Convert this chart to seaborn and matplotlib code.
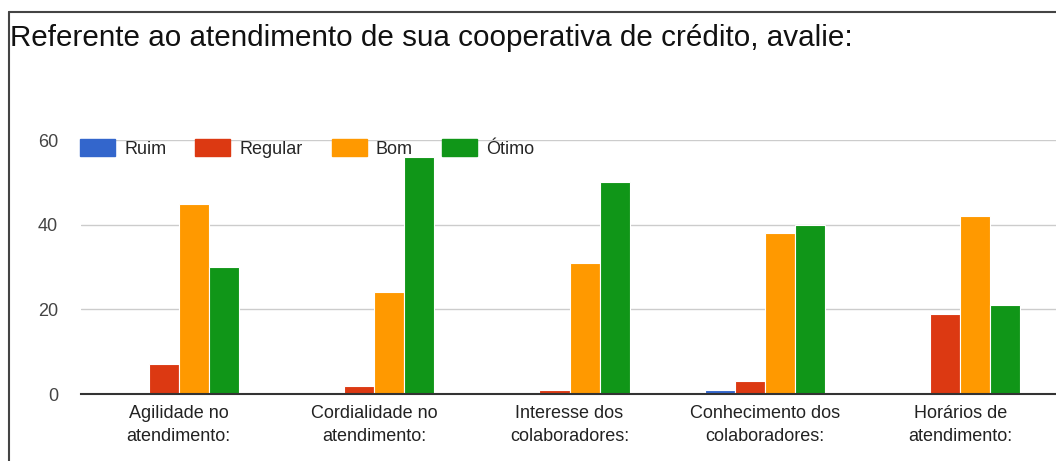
import matplotlib
matplotlib.use("Agg")
import matplotlib.pyplot as plt
from matplotlib.patches import Patch
from matplotlib.lines import Line2D
import pandas as pd
import seaborn as sns

categorias = ["Agilidade no\natendimento:", "Cordialidade no\natendimento:",
              "Interesse dos\ncolaboradores:", "Conhecimento dos\ncolaboradores:",
              "Horários de\natendimento:"]
notas = ["Ruim", "Regular", "Bom", "Ótimo"]
ruim = [0, 0, 0, 1, 0]
regular = [7, 2, 1, 3, 19]
bom = [45, 24, 31, 38, 42]
otimo = [30, 56, 50, 40, 21]
cores = ["#3366cc", "#dc3912", "#ff9900", "#109618"]
yticks = [0, 20, 40, 60]

df = pd.DataFrame({"Ruim": ruim, "Regular": regular, "Bom": bom, "Ótimo": otimo},
                  index=categorias)
df = df.reset_index().melt(id_vars="index", var_name="nota", value_name="qtd")

sns.set_style("white")
plt.rcParams["font.family"] = ["Liberation Sans", "DejaVu Sans"]

fig = plt.figure(figsize=(10.56, 4.61), dpi=100)
W, H = 1056, 461
ax = fig.add_axes([81 / W, (H - 394) / H, 977 / W, 254 / H])

sns.barplot(data=df, x="index", y="qtd", hue="nota", hue_order=notas,
            palette=cores, width=0.615, edgecolor="white", linewidth=0.8,
            saturation=1, ax=ax, legend=False)

ax.set_ylim(0, 60)
ax.set_yticks(yticks)
ax.set_xlabel("")
ax.set_ylabel("")
ax.grid(axis="y", color="#cccccc", linewidth=1)
ax.set_axisbelow(True)
for s in ["top", "right", "left"]:
    ax.spines[s].set_visible(False)
ax.spines["bottom"].set_color("#333333")
ax.spines["bottom"].set_linewidth(1.5)
ax.spines["bottom"].set_zorder(5)
ax.tick_params(axis="both", length=0, labelsize=13, colors="#222222")
ax.tick_params(axis="y", pad=16.5)
ax.tick_params(axis="x", pad=8)
for t in ax.get_xticklabels():
    t.set_linespacing(1.45)
for t in ax.get_yticklabels():
    t.set_color("#444444")

handles = [Patch(facecolor=c, edgecolor=c) for c in cores]
fig.legend(handles, notas, ncol=4, loc="center left",
           bbox_to_anchor=(80 / W, 1 - 148.5 / H), frameon=False,
           fontsize=13, handlelength=1.95, handleheight=1.0,
           handletextpad=0.5, columnspacing=1.6, borderpad=0,
           borderaxespad=0)

fig.text(10 / W, 1 - 38 / H, "Referente ao atendimento de sua cooperativa de crédito, avalie:",
         fontsize=21.3, color="#111111", va="center", ha="left")

# moldura do print
fig.add_artist(Line2D([8.5 / W, 1], [1 - 12.5 / H, 1 - 12.5 / H], color="#444444", lw=1.5))
fig.add_artist(Line2D([8.5 / W, 8.5 / W], [0, 1 - 12.5 / H], color="#444444", lw=1.5))

fig.savefig("out.png", dpi=100)
